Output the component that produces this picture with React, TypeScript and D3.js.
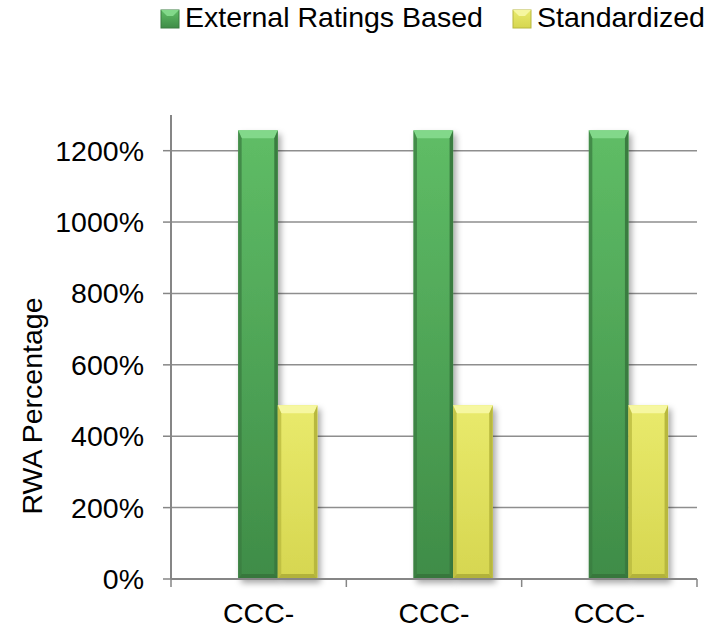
import * as d3 from 'd3';
import { useRef, useEffect } from 'react';

const categories = ['CCC-', 'CCC-', 'CCC-'];
const seriesNames = ['External Ratings Based', 'Standardized'];
const externalRatingsBased = [1257, 1257, 1257];
const standardized = [487, 487, 487];
const yTicks = [0, 200, 400, 600, 800, 1000, 1200];

const W = 706;
const H = 631;

// face colours per series: top bevel, body gradient, sides, bottom bevel
const palette = [
  { top: '#82d88a', hi: '#5fbd66', lo: '#3f8c47', side: '#3a7c40', bottom: '#357239' },
  { top: '#f6f7a0', hi: '#e9ea6c', lo: '#d6d650', side: '#b8b83e', bottom: '#a9a936' },
];

const App = () => {
  const svgRef = useRef<SVGSVGElement | null>(null);

  useEffect(() => {
    const svg = d3.select(svgRef.current);
    svg.selectAll('*').remove();
    svg.attr('width', W).attr('height', H);

    const font = '"Liberation Sans", Arial, sans-serif';
    const left = 171, right = 697, top = 115, bottom = 579;

    const x = d3.scaleBand<string>()
      .domain(categories.map((_, i) => String(i)))
      .range([left, right])
      .padding(0);
    const bw = x.bandwidth();
    const xs = d3.scaleBand<string>()
      .domain(seriesNames)
      .range([bw * 0.383, bw * 0.835])
      .padding(0);
    const y = d3.scaleLinear().domain([0, 1300]).range([bottom, top]);

    const defs = svg.append('defs');
    const shadow = defs.append('filter').attr('id', 'shadow')
      .attr('x', '-30%').attr('y', '-10%').attr('width', '160%').attr('height', '130%');
    shadow.append('feDropShadow')
      .attr('dx', 3).attr('dy', 4).attr('stdDeviation', 3)
      .attr('flood-color', '#000').attr('flood-opacity', 0.35);

    palette.forEach((p, i) => {
      const g = defs.append('linearGradient').attr('id', `body${i}`)
        .attr('x1', 0).attr('y1', 0).attr('x2', 0).attr('y2', 1);
      g.append('stop').attr('offset', '0%').attr('stop-color', p.hi);
      g.append('stop').attr('offset', '100%').attr('stop-color', p.lo);
    });

    // gridlines
    svg.append('g').selectAll('line')
      .data(yTicks)
      .enter()
      .append('line')
      .attr('x1', left).attr('x2', right)
      .attr('y1', d => y(d)).attr('y2', d => y(d))
      .attr('stroke', '#8e8e8e').attr('stroke-width', 1.5);

    // bars
    const seriesValues = [externalRatingsBased, standardized];
    const barsG = svg.append('g');
    seriesValues.forEach((values, si) => {
      const p = palette[si];
      values.forEach((v, ci) => {
        const x0 = x(String(ci))! + xs(seriesNames[si])!;
        const w = xs.bandwidth();
        const y0 = y(v);
        const h = y(0) - y0;
        const bar = barsG.append('g');
        const tb = 8, sb = 3.5, bb = 5;
        bar.append('rect')
          .attr('x', x0).attr('y', y0).attr('width', w).attr('height', h)
          .attr('fill', `url(#body${si})`)
          .attr('filter', 'url(#shadow)');
        // top bevel
        bar.append('polygon')
          .attr('points', [[x0, y0], [x0 + w, y0], [x0 + w - sb, y0 + tb], [x0 + sb, y0 + tb]].map(q => q.join(',')).join(' '))
          .attr('fill', p.top);
        // left bevel
        bar.append('polygon')
          .attr('points', [[x0, y0], [x0 + sb, y0 + tb], [x0 + sb, y0 + h - bb], [x0, y0 + h]].map(q => q.join(',')).join(' '))
          .attr('fill', p.side).attr('opacity', 0.75);
        // right bevel
        bar.append('polygon')
          .attr('points', [[x0 + w, y0], [x0 + w - sb, y0 + tb], [x0 + w - sb, y0 + h - bb], [x0 + w, y0 + h]].map(q => q.join(',')).join(' '))
          .attr('fill', p.side);
        // bottom bevel
        bar.append('polygon')
          .attr('points', [[x0, y0 + h], [x0 + sb, y0 + h - bb], [x0 + w - sb, y0 + h - bb], [x0 + w, y0 + h]].map(q => q.join(',')).join(' '))
          .attr('fill', p.bottom).attr('opacity', 0.8);
      });
    });

    // axes
    const axisColor = '#868686';
    svg.append('line')
      .attr('x1', left).attr('x2', left).attr('y1', top).attr('y2', bottom)
      .attr('stroke', axisColor).attr('stroke-width', 2);
    svg.append('line')
      .attr('x1', left).attr('x2', right).attr('y1', bottom).attr('y2', bottom)
      .attr('stroke', axisColor).attr('stroke-width', 2);
    svg.append('g').selectAll('line')
      .data(yTicks)
      .enter()
      .append('line')
      .attr('x1', left - 8).attr('x2', left)
      .attr('y1', d => y(d)).attr('y2', d => y(d))
      .attr('stroke', axisColor).attr('stroke-width', 1.5);
    const bounds = categories.map((_, i) => x(String(i))!).concat([right]);
    svg.append('g').selectAll('line')
      .data(bounds)
      .enter()
      .append('line')
      .attr('x1', d => d).attr('x2', d => d)
      .attr('y1', bottom).attr('y2', bottom + 8)
      .attr('stroke', axisColor).attr('stroke-width', 1.5);

    // tick labels
    svg.append('g').selectAll('text')
      .data(yTicks)
      .enter()
      .append('text')
      .attr('x', 144).attr('y', d => y(d) + 10)
      .attr('text-anchor', 'end')
      .attr('font-family', font).attr('font-size', 28.5)
      .attr('fill', '#000')
      .text(d => `${d}%`);
    svg.append('g').selectAll('text')
      .data(categories)
      .enter()
      .append('text')
      .attr('x', (_, i) => x(String(i))! + bw / 2)
      .attr('y', 623)
      .attr('text-anchor', 'middle')
      .attr('font-family', font).attr('font-size', 28.5)
      .attr('fill', '#000')
      .text(d => d);

    svg.append('text')
      .attr('transform', `translate(42,406) rotate(-90)`)
      .attr('text-anchor', 'middle')
      .attr('font-family', font).attr('font-size', 28.5)
      .attr('fill', '#000')
      .text('RWA Percentage');

    // legend
    const legendX = [161, 513];
    seriesNames.forEach((name, i) => {
      const p = palette[i];
      const lg = svg.append('g');
      lg.append('rect')
        .attr('x', legendX[i]).attr('y', 10).attr('width', 18).attr('height', 18)
        .attr('fill', `url(#body${i})`).attr('stroke', p.side).attr('stroke-width', 1);
      lg.append('polygon')
        .attr('points', `${legendX[i]},10 ${legendX[i] + 18},10 ${legendX[i] + 12},16 ${legendX[i] + 6},16`)
        .attr('fill', p.top);
      lg.append('text')
        .attr('x', legendX[i] + 24).attr('y', 27)
        .attr('font-family', font).attr('font-size', 28.5)
        .attr('fill', '#000')
        .text(name);
    });
  }, []);

  return (
    <div style={{ position: 'absolute', left: 0, top: 0 }}>
      <svg ref={svgRef} style={{ display: 'block' }} />
    </div>
  );
};

export default App;
